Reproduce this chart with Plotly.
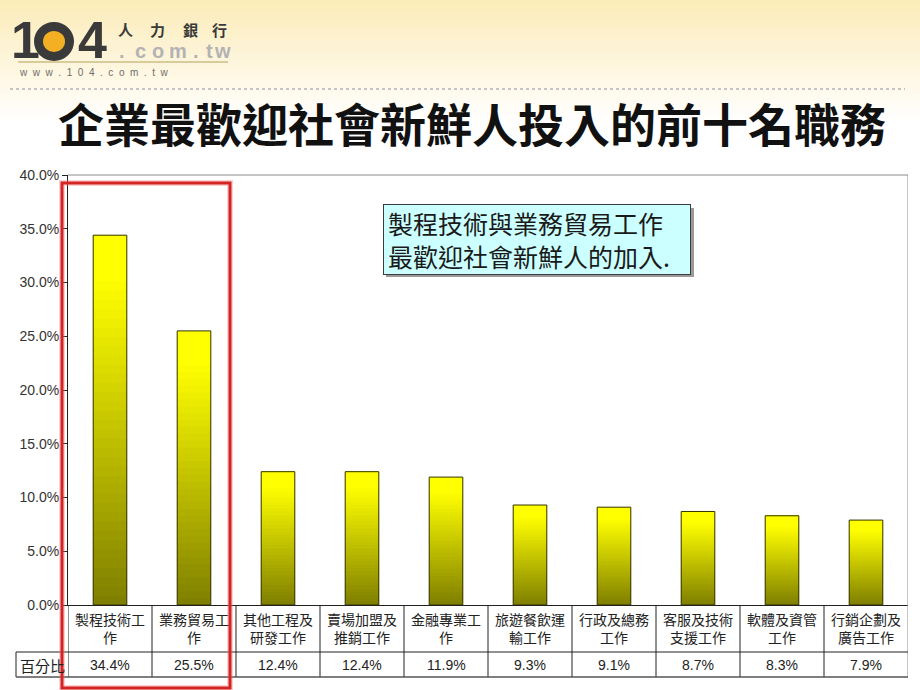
import plotly.graph_objects as go

W, H = 920, 690

categories = ["製程技術工<br>作", "業務貿易工<br>作", "其他工程及<br>研發工作", "賣場加盟及<br>推銷工作",
              "金融專業工<br>作", "旅遊餐飲運<br>輸工作", "行政及總務<br>工作", "客服及技術<br>支援工作",
              "軟體及資管<br>工作", "行銷企劃及<br>廣告工作"]
values = [0.344, 0.255, 0.124, 0.124, 0.119, 0.093, 0.091, 0.087, 0.083, 0.079]
value_labels = ["34.4%", "25.5%", "12.4%", "12.4%", "11.9%", "9.3%", "9.1%", "8.7%", "8.3%", "7.9%"]
row_label = "百分比"
title_text = "企業最歡迎社會新鮮人投入的前十名職務"
note_text = "製程技術與業務貿易工作<br>最歡迎社會新鮮人的加入."

def px(x):
    return x / W

def py(y):
    return 1 - y / H

fig = go.Figure()

# gradient bars: stacked-over segments, each from its base to the bar top
N = 40
bottom_c = (128, 128, 0)
top_c = (255, 255, 0)
idx = list(range(len(values)))
for k in range(N):
    f = k / N
    c = tuple(int(round(bottom_c[i] + (top_c[i] - bottom_c[i]) * min(1.0, f * 1.15))) for i in range(3))
    fig.add_trace(go.Bar(
        x=idx, y=[v * (1 - f) for v in values], base=[v * f for v in values],
        width=0.4, marker=dict(color="rgb(%d,%d,%d)" % c, line=dict(width=0)),
        hoverinfo="skip", showlegend=False))
fig.add_trace(go.Bar(
    x=idx, y=values, base=[0] * len(values), width=0.4,
    marker=dict(color="rgba(0,0,0,0)", line=dict(color="#333300", width=1)),
    hoverinfo="skip", showlegend=False))

shapes = []
# background gradient at top
strips = 24
for s in range(strips):
    t = s / strips
    r = int(round(252 + (255 - 252) * t))
    g = int(round(236 + (255 - 236) * t))
    b = int(round(186 + (255 - 186) * t))
    shapes.append(dict(type="rect", xref="paper", yref="paper", x0=0, x1=1,
                       y0=py(s * 5 + 5), y1=py(s * 5), fillcolor="rgb(%d,%d,%d)" % (r, g, b),
                       line=dict(width=0), layer="below"))
# dotted separator
shapes.append(dict(type="line", xref="paper", yref="paper", x0=px(10), x1=px(905), y0=py(89), y1=py(89),
                   line=dict(color="#c4c4c4", width=2, dash="dot")))
# logo line
shapes.append(dict(type="line", xref="paper", yref="paper", x0=px(18), x1=px(228), y0=py(62), y1=py(62),
                   line=dict(color="#d9cc9c", width=2)))
# logo "0" ring + orange disc
shapes.append(dict(type="circle", xref="paper", yref="paper", x0=px(34), x1=px(74), y0=py(61), y1=py(22),
                   fillcolor="#3a3a3a", line=dict(width=0)))
shapes.append(dict(type="circle", xref="paper", yref="paper", x0=px(43), x1=px(65), y0=py(52), y1=py(31),
                   fillcolor="#f3b024", line=dict(width=0)))

# plot frame (top/right gray)
shapes.append(dict(type="line", xref="x", yref="paper", x0=-0.5, x1=9.5, y0=py(175), y1=py(175),
                   line=dict(color="#8c8c8c", width=1)))
shapes.append(dict(type="line", xref="x", yref="paper", x0=9.5, x1=9.5, y0=py(677), y1=py(175),
                   line=dict(color="#8c8c8c", width=1)))
# table grid
for i in range(len(values)):
    shapes.append(dict(type="line", xref="x", yref="paper", x0=i - 0.5, x1=i - 0.5, y0=py(677), y1=py(605),
                       line=dict(color="#222", width=1)))
shapes.append(dict(type="line", xref="paper", yref="paper", x0=px(16), x1=px(16), y0=py(677), y1=py(652),
                   line=dict(color="#222", width=1)))
shapes.append(dict(type="line", xref="paper", yref="paper", x0=px(16), x1=px(908), y0=py(652), y1=py(652),
                   line=dict(color="#222", width=1)))
shapes.append(dict(type="line", xref="paper", yref="paper", x0=px(16), x1=px(908), y0=py(677), y1=py(677),
                   line=dict(color="#555", width=1.5)))
# note box shadow
shapes.append(dict(type="rect", xref="paper", yref="paper", x0=px(386), x1=px(694), y0=py(277), y1=py(208),
                   fillcolor="#9a9a9a", line=dict(width=0)))
# red highlight rectangle
shapes.append(dict(type="rect", xref="paper", yref="paper", x0=px(62), x1=px(230), y0=py(688), y1=py(183),
                   line=dict(color="rgba(240,120,120,0.35)", width=6), fillcolor="rgba(0,0,0,0)"))
shapes.append(dict(type="rect", xref="paper", yref="paper", x0=px(62), x1=px(230), y0=py(688), y1=py(183),
                   line=dict(color="#d42424", width=3), fillcolor="rgba(0,0,0,0)"))

annotations = []
cjk = "Noto Sans CJK TC"

def ann(text, x, y, xref="paper", xanchor="center", **kw):
    d = dict(text=text, x=x, y=y, xref=xref, yref="paper", xanchor=xanchor, yanchor="middle",
             showarrow=False)
    d.update(kw)
    annotations.append(d)

# logo texts
ann("<b>1</b>", px(25), py(40), height=40, borderpad=0,
    font=dict(family="Liberation Sans", size=52, color="#3a3a3a"))
ann("<b>4</b>", px(92), py(40), height=40, borderpad=0,
    font=dict(family="Liberation Sans", size=52, color="#3a3a3a"))
for ch, cx in zip(["人", "力", "銀", "行"], [125, 157, 190, 219]):
    ann("<b>%s</b>" % ch, px(cx), py(30), height=17, borderpad=0,
        font=dict(family=cjk, size=15, color="#3a3a3a"))
for ch, cx in zip([".", "c", "o", "m", ".", "t", "w"], [122, 140, 158, 178, 196, 209, 222]):
    ann("<b>%s</b>" % ch, px(cx), py(51), height=18, borderpad=0,
        font=dict(family="Liberation Sans", size=20, color="#b3b3b3"))
www = "w w w . 1 0 4 . c o m . t w"
ann(www.replace(" ", "&nbsp;&nbsp;"), px(18), py(73), xanchor="left", height=11, borderpad=0,
    font=dict(family="Liberation Sans", size=10, color="#6e6e6e"))
# title
ann("<b>%s</b>" % title_text, px(472), py(122), font=dict(family=cjk, size=46, color="#111"))
# note box
ann(note_text, px(537), py(239), width=298, height=61, align="left", bgcolor="#ccffff",
    bordercolor="#3c3c3c", borderwidth=1, borderpad=4, font=dict(family=cjk, size=25, color="#1a1a1a"))
# table text
for i, (c, v) in enumerate(zip(categories, value_labels)):
    ann(c, i, py(628), xref="x", align="center", font=dict(family=cjk, size=14, color="#222"))
    ann(v, i, py(665), xref="x", font=dict(family="Liberation Sans", size=14, color="#222"))
ann(row_label, px(18), py(665), xanchor="left", font=dict(family=cjk, size=15, color="#222"))

fig.update_layout(
    width=W, height=H, margin=dict(l=0, r=0, t=0, b=0),
    paper_bgcolor="white", plot_bgcolor="white",
    barmode="overlay", showlegend=False,
    xaxis=dict(domain=[px(68), px(908)], range=[-0.5, 9.5], showticklabels=False, ticks="",
               showgrid=False, zeroline=False, showline=True, linecolor="#222", linewidth=1, fixedrange=True),
    yaxis=dict(domain=[py(605), py(175)], range=[0, 0.4], dtick=0.05, tickformat=".1%",
               ticks="outside", ticklen=5, tickcolor="#222", showgrid=False, zeroline=False,
               showline=True, linecolor="#222", linewidth=1, automargin=False,
               tickfont=dict(family="Liberation Sans", size=14, color="#333"), fixedrange=True),
    shapes=shapes, annotations=annotations,
)

fig.write_html("out.html", post_script="document.body.style.margin='0';document.body.style.overflow='hidden';")
